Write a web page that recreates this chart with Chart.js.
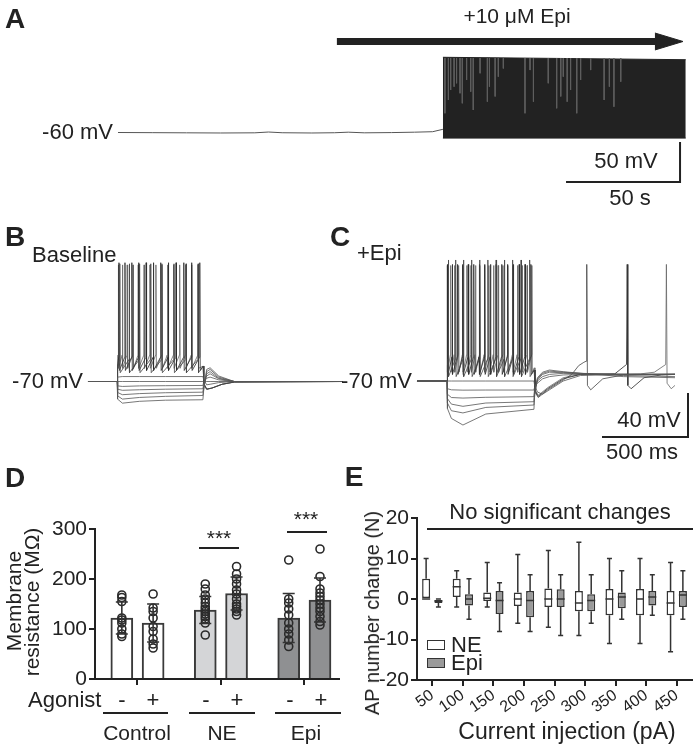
<!DOCTYPE html>
<html>
<head>
<meta charset="utf-8">
<script src="https://cdn.jsdelivr.net/npm/chart.js@4.4.1/dist/chart.umd.min.js"></script>
<style>
body{margin:0;background:#fff;}
#fig{position:relative;width:696px;height:747px;overflow:hidden;background:#fff;font-family:'Liberation Sans',Arial,sans-serif;color:#222;}
canvas{position:absolute;}
.t{position:absolute;white-space:nowrap;font-size:21px;line-height:1;}
.m{font-size:22px;}
.c{transform:translate(-50%,-50%);}
.r{transform:translate(-100%,-50%);}
.l{transform:translate(0,-50%);}
.v{transform:translate(-50%,-50%) rotate(-90deg);}
.p{font-weight:bold;font-size:28px;}
.hl{position:absolute;height:0;border-top:2px solid #222;}
.box{position:absolute;width:16px;height:8px;border:1.5px solid #333;}
</style>
</head>
<body>
<div id="fig">
<canvas id="cA" width="696" height="215" style="left:0;top:0"></canvas>
<canvas id="cB" width="345" height="235" style="left:0;top:215px"></canvas>
<canvas id="cC" width="351" height="235" style="left:345px;top:215px"></canvas>
<canvas id="cD" width="345" height="245" style="left:0;top:455px"></canvas>
<canvas id="cE" width="351" height="265" style="left:345px;top:455px"></canvas>

<div class="t p c" style="left:15px;top:19px">A</div>
<div class="t c" style="left:517px;top:15px">+10 μM Epi</div>
<div class="t m r" style="left:113px;top:132px">-60 mV</div>
<div class="t m c" style="left:626px;top:161px">50 mV</div>
<div class="t m c" style="left:630px;top:198px">50 s</div>

<div class="t p c" style="left:15px;top:237px">B</div>
<div class="t p c" style="left:340px;top:237px">C</div>
<div class="t m l" style="left:32px;top:255px">Baseline</div>
<div class="t m r" style="left:83px;top:381px">-70 mV</div>
<div class="t m l" style="left:357px;top:253px">+Epi</div>
<div class="t m r" style="left:412px;top:381px">-70 mV</div>
<div class="t m c" style="left:649px;top:420px">40 mV</div>
<div class="t m c" style="left:642px;top:452px">500 ms</div>

<div class="t p c" style="left:15px;top:478px">D</div>
<div class="t c" style="left:219px;top:537px">***</div>
<div class="hl" style="left:199px;top:547px;width:40px"></div>
<div class="t c" style="left:306px;top:518px">***</div>
<div class="hl" style="left:287px;top:531px;width:40px"></div>
<div class="t v" style="left:13px;top:601px">Membrane</div>
<div class="t v" style="left:31px;top:602px">resistance (MΩ)</div>
<div class="t m l" style="left:28px;top:700px">Agonist</div>
<div class="t m c" style="left:122px;top:700px">-</div>
<div class="t m c" style="left:153px;top:700px">+</div>
<div class="t m c" style="left:206px;top:700px">-</div>
<div class="t m c" style="left:237px;top:700px">+</div>
<div class="t m c" style="left:290px;top:700px">-</div>
<div class="t m c" style="left:321px;top:700px">+</div>
<div class="hl" style="left:103px;top:712px;width:65px"></div>
<div class="hl" style="left:189px;top:712px;width:66px"></div>
<div class="hl" style="left:275px;top:712px;width:66px"></div>
<div class="t c" style="left:137px;top:732px">Control</div>
<div class="t c" style="left:222px;top:732px">NE</div>
<div class="t c" style="left:306px;top:732px">Epi</div>

<div class="t p c" style="left:354px;top:477px">E</div>
<div class="t m c" style="left:560px;top:512px">No significant changes</div>
<div class="hl" style="left:427px;top:528px;width:266px"></div>
<div class="t v" style="left:372px;top:613px;font-size:20px">AP number change (N)</div>
<div class="box" style="left:427px;top:640px;background:#fff"></div>
<div class="t m l" style="left:451px;top:645px">NE</div>
<div class="box" style="left:427px;top:658px;background:#9a9a9a"></div>
<div class="t m l" style="left:451px;top:663px">Epi</div>
<div class="t c" style="left:567px;top:731px;font-size:23px">Current injection (pA)</div>
</div>

<script>
// ---- A: current clamp, 10 uM Epi (time in s, mV)
const aBaseT = [0, 15, 30, 45, 60, 66, 72, 85, 95, 101, 108, 120, 130, 138, 142.5];
const aBaseV = [-60, -60.2, -60.4, -60.6, -60.4, -59.4, -60.3, -60.6, -60.3, -59.6, -60.4, -60.1, -59.6, -59, -56];
const aBurstT = [142.5, 249];
const aBurstTop = [34, 31];
const aBurstBottom = [-67, -67];
// lighter spikes inside the burst: time (s) and lowest point (mV)
const aStreakT = [143.4, 144.9, 145.9, 147.4, 148.5, 150, 151, 152.9, 154.7, 155.8, 158.8, 162, 162.9, 165.4, 166.8, 169,
    178.5, 180.7, 182.2, 188.7, 192.4, 194.2, 195.3, 197, 198.5, 201.2, 202.9, 207.3, 213.2, 215.5, 217.5, 220.5];
const aStreakLow = [-36, -19.4, -6.9, -2.75, 1.5, -11, -23.5, 5.6, -9, -31.9, 14, -21.5, -2.75, -15, 9.75, 20,
    -36, 18, -21.5, 1.5, -29.8, -15, 9.75, -21.5, -6.9, -36, 5.6, 18, -19.4, -2.75, -27.8, 3.5];
const aArrowT = [96, 236];
const aArrowHeadT = [235.5, 247.8, 235.5];
const aArrowV = 53.75;
const aScaleT = [196.5, 246.5, 246.5];   // 50 s
const aScaleV = [-121.9, -121.9, -71.9]; // 50 mV

// ---- B: baseline steps (time in ms, mV)
const bSweepT = [0, 170, 172, 200, 300, 450, 668, 672, 690, 710, 760, 850, 1480];
const bSub1 = [-70, -70, -66, -65.5, -65.5, -65.5, -65.5, -68, -73, -72.5, -71, -70, -70];
const bSub2 = [-70, -70, -70, -70, -70, -70, -70, -70, -70, -70, -70, -70, -70];
const bSub3 = [-70, -70, -74, -74.5, -74, -73.8, -73.6, -71, -67, -66, -68.5, -70, -70];
const bSub4 = [-70, -70, -77, -78, -77.5, -77, -76.6, -73, -65, -63, -67.5, -70, -70];
const bSub5 = [-70, -70, -80, -82, -81, -80.2, -79.7, -75, -63, -61, -67, -70, -70];
const bSub6 = [-70, -70, -83, -86, -84.5, -83.5, -82.7, -77, -61, -59, -66, -70, -70];
const bSub7 = [-70, -70, -86, -89.7, -88, -87, -86.6, -79, -59, -57.5, -65, -70, -70];
const bSpikes1 = [185, 240, 300, 365, 430, 500, 570, 640];
const bSpikes2 = [180, 215, 255, 295, 338, 380, 423, 467, 512, 557, 603, 650];
const bSpikes3 = [176, 200, 228, 262, 292, 326, 360, 395, 430, 462, 498, 533, 568, 602, 640];
const bTail = [[670, -56], [673, -72], [690, -77], [720, -76], [780, -72.5], [850, -70.5], [1480, -70]];

// ---- C: +Epi steps
const cSweepT = [0, 175, 177, 200, 267, 400, 680, 683, 700, 730, 770, 850, 950, 1200, 1500];
const cSub0 = [-70, -70, -70, -70, -70, -70, -70, -73, -80, -82, -78, -70, -65, -64, -64];
const cSub1 = [-70, -70, -77, -78, -78.3, -78.2, -78.2, -76, -72, -68, -66, -64.5, -64, -64, -64];
const cSub2 = [-70, -70, -82, -85, -85.5, -84.8, -84.2, -78, -70, -66, -64, -63, -63.5, -64, -63.5];
const cSub3 = [-70, -70, -86, -91, -93, -90, -88.8, -80, -69, -64, -62, -62.5, -63, -64, -64];
const cSub4 = [-70, -70, -90, -97, -99, -94, -91.8, -82, -68, -63, -61, -62, -63, -65, -66];
const cSub5 = [-70, -70, -95, -104, -110, -100, -95.7, -85, -67, -62, -60, -61.5, -63, -66, -67];
const cSpikes1 = [182, 225, 270, 318, 365, 412, 460, 508, 556, 605, 655];
const cSpikes2 = [178, 205, 236, 266, 298, 330, 362, 394, 427, 460, 493, 527, 560, 594, 628, 662];
const cSpikes3 = [176, 196, 218, 242, 265, 290, 314, 340, 365, 392, 418, 445, 472, 500, 528, 556, 584, 612, 640, 668];
const cTail1 = [[682, -60], [686, -80], [705, -85], [760, -78], [850, -69], [900, -64], [940, -56], [970, -53], [983, -52], [987, 36], [991, -74], [1010, -78], [1080, -68], [1200, -64.5], [1500, -64]];
const cTail2 = [[682, -60], [686, -79], [705, -84], [760, -77], [850, -68], [950, -64], [1150, -63.5], [1218, -55], [1222, 36], [1226, -74], [1245, -77], [1320, -67], [1420, -64.5], [1500, -64]];
const cTail3 = [[682, -58], [686, -78], [705, -83], [760, -76], [850, -67], [950, -64], [1300, -63.5], [1380, -62], [1446, -55], [1450, 36], [1454, -72], [1478, -77], [1500, -74]];
const cScaleT = [1075.6, 1575.6, 1575.6]; // 500 ms
const cScaleV = [-120.9, -120.9, -80.9];  // 40 mV

// ---- D: membrane resistance (MOhm)
const dGroups = ['Control', 'NE', 'Epi'];
const resMean = [122, 112, 138, 171, 122, 158];
const resSD = [32, 38, 27, 33, 49, 44];
const ctrlMinus = [168, 163, 155, 122, 118, 112, 100, 90, 85];
const ctrlPlus = [170, 142, 135, 122, 105, 95, 80, 70, 62];
const neMinus = [190, 180, 168, 160, 152, 145, 140, 135, 130, 125, 120, 112, 88];
const nePlus = [225, 210, 200, 190, 178, 170, 160, 150, 145, 140, 135, 128];
const epiMinus = [238, 160, 152, 140, 128, 112, 100, 90, 78, 65];
const epiPlus = [260, 205, 180, 172, 165, 158, 150, 142, 135, 125, 115, 108];

// ---- E: AP number change
const currents = ['50', '100', '150', '200', '250', '300', '350', '400', '450'];
const neMin = [0, -2, -2, -6, -7, -9, -11, -11, -13];
const neQ1 = [0, 0.5, -0.5, -1.7, -2, -3, -4, -4, -4];
const neMed = [0, 3, 0.2, 0, 0, -1, 0, 0, -1];
const neQ3 = [5, 5, 1.6, 1.6, 2.6, 2, 2.5, 2.5, 2];
const neMax = [10, 7, 9, 11, 12, 14, 10, 10, 9];
const epiMin = [-2, -5, -8, -8, -9, -6, -5, -4, -5];
const epiQ1 = [-1, -1.6, -3.7, -4.5, -2, -3, -2.3, -1.6, -2];
const epiMed = [-0.5, 0, -0.4, -0.4, 0, -0.4, 0.5, 0.5, 1];
const epiQ3 = [0, 1.2, 2, 2, 2.4, 1.2, 1.6, 2, 2];
const epiMax = [0, 5, 4, 6, 6, 6, 7, 6, 7];

Chart.defaults.font.family = "'Liberation Sans', Arial, sans-serif";
Chart.defaults.color = '#222';
Chart.defaults.animation = false;
Chart.defaults.responsive = false;
Chart.defaults.devicePixelRatio = 1;
Chart.defaults.plugins.legend.display = false;
Chart.defaults.plugins.tooltip.enabled = false;

function pts(ts, vs) {
    return ts.map((t, i) => ({x: t, y: vs[i]}));
}

function trace(data, color, w) {
    return {type: 'line', data: data, borderColor: color, borderWidth: w, pointRadius: 0, fill: false, tension: 0};
}

// one spiking sweep: rest, step onset, each spike (threshold -> peak -> trough), then the tail
function spikeTrace(spikes, cfg, tail) {
    let p = [{x: 0, y: cfg.rest}, {x: cfg.on, y: cfg.rest}, {x: cfg.on + 2, y: cfg.start}];
    spikes.forEach(ts => {
        p.push({x: ts - 1.5, y: cfg.thr}, {x: ts, y: cfg.peak}, {x: ts + 2.5, y: cfg.trough});
    });
    tail.forEach(q => p.push({x: q[0], y: q[1]}));
    return p;
}

function hiddenScales(x0, x1, y0, y1) {
    return {
        x: {type: 'linear', display: false, min: x0, max: x1},
        y: {type: 'linear', display: false, min: y0, max: y1}
    };
}

// panel A
let streaks = [];
aStreakT.forEach((t, i) => {
    streaks.push({x: t, y: aBurstTop[0] - 1}, {x: t, y: aStreakLow[i]}, {x: t, y: null});
});
new Chart(document.getElementById('cA'), {
    type: 'line',
    data: {datasets: [
        {data: pts(aBurstT, aBurstTop), order: 2, borderColor: '#222', borderWidth: 1, backgroundColor: '#222', fill: '+1', pointRadius: 0},
        {data: pts(aBurstT, aBurstBottom), order: 2, borderColor: '#222', borderWidth: 1, pointRadius: 0, fill: false},
        {data: streaks, order: 0, borderColor: '#5e5e5e', borderWidth: 1, pointRadius: 0, fill: false, spanGaps: false},
        trace(pts(aBaseT, aBaseV), '#555', 1),
        trace(pts(aArrowT, [aArrowV, aArrowV]), '#222', 7),
        {data: pts(aArrowHeadT, [aArrowV + 10.6, aArrowV, aArrowV - 10.6]), borderColor: '#222', borderWidth: 1,
         backgroundColor: '#222', fill: 'shape', pointRadius: 0},
        trace(pts(aScaleT, aScaleV), '#222', 2)
    ]},
    options: {layout: {padding: 0}, scales: hiddenScales(-51.75, 253.5, -163.1, 105.6)}
});

// panel B
let bSets = [bSub1, bSub2, bSub3, bSub4, bSub5, bSub6, bSub7].map(v => trace(pts(bSweepT, v), '#555', 0.8));
bSets.push(trace(spikeTrace(bSpikes1, {rest: -70, on: 170, start: -58, thr: -50, peak: 37, trough: -62}, bTail), '#444', 0.8));
bSets.push(trace(spikeTrace(bSpikes2, {rest: -70, on: 170, start: -56, thr: -48, peak: 38, trough: -60}, bTail), '#2a2a2a', 0.8));
bSets.push(trace(spikeTrace(bSpikes3, {rest: -70, on: 170, start: -54, thr: -46, peak: 36, trough: -58}, bTail), '#666', 0.8));
new Chart(document.getElementById('cB'), {
    type: 'line',
    data: {datasets: bSets},
    options: {layout: {padding: 0}, scales: hiddenScales(-511.6, 1494.2, -132.27, 81.36)}
});

// panel C
let cSets = [cSub0, cSub1, cSub2, cSub3, cSub4, cSub5].map(v => trace(pts(cSweepT, v), '#555', 0.8));
cSets.push(trace(spikeTrace(cSpikes1, {rest: -70, on: 175, start: -56, thr: -50, peak: 40, trough: -66}, cTail1), '#444', 0.8));
cSets.push(trace(spikeTrace(cSpikes2, {rest: -70, on: 175, start: -54, thr: -48, peak: 36, trough: -64}, cTail2), '#2a2a2a', 0.8));
cSets.push(trace(spikeTrace(cSpikes3, {rest: -70, on: 175, start: -52, thr: -46, peak: 35, trough: -62}, cTail3), '#666', 0.8));
cSets.push(trace(pts(cScaleT, cScaleV), '#222', 2));
new Chart(document.getElementById('cC'), {
    type: 'line',
    data: {datasets: cSets},
    options: {layout: {padding: 0}, scales: hiddenScales(-418.6, 1622.1, -132.7, 80.9)}
});

// panel D
const pairOffset = 0.1875;
const barX = [];
dGroups.forEach((g, i) => { barX.push(i - pairOffset, i + pairOffset); });
const cells = [ctrlMinus, ctrlPlus, neMinus, nePlus, epiMinus, epiPlus];
const dots = [];
cells.forEach((arr, i) => arr.forEach(v => dots.push({x: barX[i], y: v})));

const errorBars = {
    id: 'errorBars',
    afterDatasetsDraw(chart) {
        const ctx = chart.ctx, xs = chart.scales.x, ys = chart.scales.y;
        ctx.save();
        ctx.strokeStyle = '#333';
        ctx.lineWidth = 1.6;
        resMean.forEach((m, i) => {
            const px = xs.getPixelForValue(barX[i]);
            const hi = ys.getPixelForValue(m + resSD[i]);
            const lo = ys.getPixelForValue(m - resSD[i]);
            ctx.beginPath();
            ctx.moveTo(px, hi); ctx.lineTo(px, lo);
            ctx.moveTo(px - 6, hi); ctx.lineTo(px + 6, hi);
            ctx.moveTo(px - 6, lo); ctx.lineTo(px + 6, lo);
            ctx.stroke();
        });
        ctx.restore();
    }
};

new Chart(document.getElementById('cD'), {
    type: 'bar',
    data: {datasets: [
        {type: 'scatter', order: 0, data: dots, pointRadius: 4, pointBorderWidth: 1.6,
         pointBorderColor: '#2a2a2a', pointBackgroundColor: 'rgba(0,0,0,0)'},
        {type: 'bar', order: 1, data: resMean.map((m, i) => ({x: barX[i], y: m})), barThickness: 22,
         backgroundColor: ['#ffffff', '#ffffff', '#d4d5d7', '#d4d5d7', '#8f9092', '#8f9092'],
         borderColor: '#3a3a3a', borderWidth: 2, borderSkipped: 'start'}
    ]},
    options: {
        layout: {padding: {top: 74, right: 5, left: 0, bottom: 0}},
        scales: {
            x: {type: 'linear', min: -0.509, max: 2.42, offset: false,
                afterBuildTicks: s => { s.ticks = [{value: 0}, {value: 1}, {value: 2}]; },
                ticks: {callback: () => '', font: {size: 4}},
                grid: {drawOnChartArea: false, offset: false, tickLength: 6, color: '#222', lineWidth: 2},
                border: {color: '#222', width: 2},
                afterFit: s => { s.height = 21; }},
            y: {min: 0, max: 300, ticks: {stepSize: 100, font: {size: 21}, color: '#222', padding: 2},
                grid: {drawOnChartArea: false, tickLength: 6, color: '#222', lineWidth: 2},
                border: {color: '#222', width: 2},
                afterFit: s => { s.width = 95; }}
        }
    },
    plugins: [errorBars]
});

// panel E
const whiskers = {
    id: 'whiskers',
    afterDatasetsDraw(chart) {
        const ctx = chart.ctx, ys = chart.scales.y;
        const stats = [[neMin, neMed, neMax], [epiMin, epiMed, epiMax]];
        ctx.save();
        ctx.strokeStyle = '#333';
        ctx.lineWidth = 1.5;
        stats.forEach((st, d) => {
            const ds = chart.data.datasets[d];
            chart.getDatasetMeta(d).data.forEach((bar, i) => {
                const q1 = ds.data[i][0], q3 = ds.data[i][1];
                const x = bar.x, hw = bar.width / 2;
                ctx.beginPath();
                ctx.moveTo(x, ys.getPixelForValue(q3)); ctx.lineTo(x, ys.getPixelForValue(st[2][i]));
                ctx.moveTo(x, ys.getPixelForValue(q1)); ctx.lineTo(x, ys.getPixelForValue(st[0][i]));
                ctx.moveTo(x - 2.5, ys.getPixelForValue(st[2][i])); ctx.lineTo(x + 2.5, ys.getPixelForValue(st[2][i]));
                ctx.moveTo(x - 2.5, ys.getPixelForValue(st[0][i])); ctx.lineTo(x + 2.5, ys.getPixelForValue(st[0][i]));
                ctx.moveTo(x - hw, ys.getPixelForValue(st[1][i])); ctx.lineTo(x + hw, ys.getPixelForValue(st[1][i]));
                ctx.stroke();
            });
        });
        ctx.restore();
    }
};

new Chart(document.getElementById('cE'), {
    type: 'bar',
    data: {
        labels: currents,
        datasets: [
            {label: 'NE', data: neQ1.map((q, i) => [q, neQ3[i]]), backgroundColor: '#ffffff',
             borderColor: '#333', borderWidth: 1.5, borderSkipped: false,
             categoryPercentage: 0.806, barPercentage: 0.65},
            {label: 'Epi', data: epiQ1.map((q, i) => [q, epiQ3[i]]), backgroundColor: '#9a9a9a',
             borderColor: '#333', borderWidth: 1.5, borderSkipped: false,
             categoryPercentage: 0.806, barPercentage: 0.65}
        ]
    },
    options: {
        layout: {padding: {top: 63, right: 4, left: 0, bottom: 0}},
        scales: {
            x: {grid: {drawOnChartArea: false, offset: false, tickLength: 6, color: '#222', lineWidth: 2},
                border: {color: '#222', width: 2},
                ticks: {autoSkip: false, maxRotation: 35, minRotation: 35, font: {size: 16}, color: '#222', padding: 0},
                afterFit: s => { s.height = 40; }},
            y: {min: -20, max: 20, ticks: {stepSize: 10, font: {size: 21}, color: '#222', padding: 2},
                grid: {drawOnChartArea: false, tickLength: 6, color: '#222', lineWidth: 2},
                border: {color: '#222', width: 2},
                afterFit: s => { s.width = 72; }}
        }
    },
    plugins: [whiskers]
});
</script>
</body>
</html>
